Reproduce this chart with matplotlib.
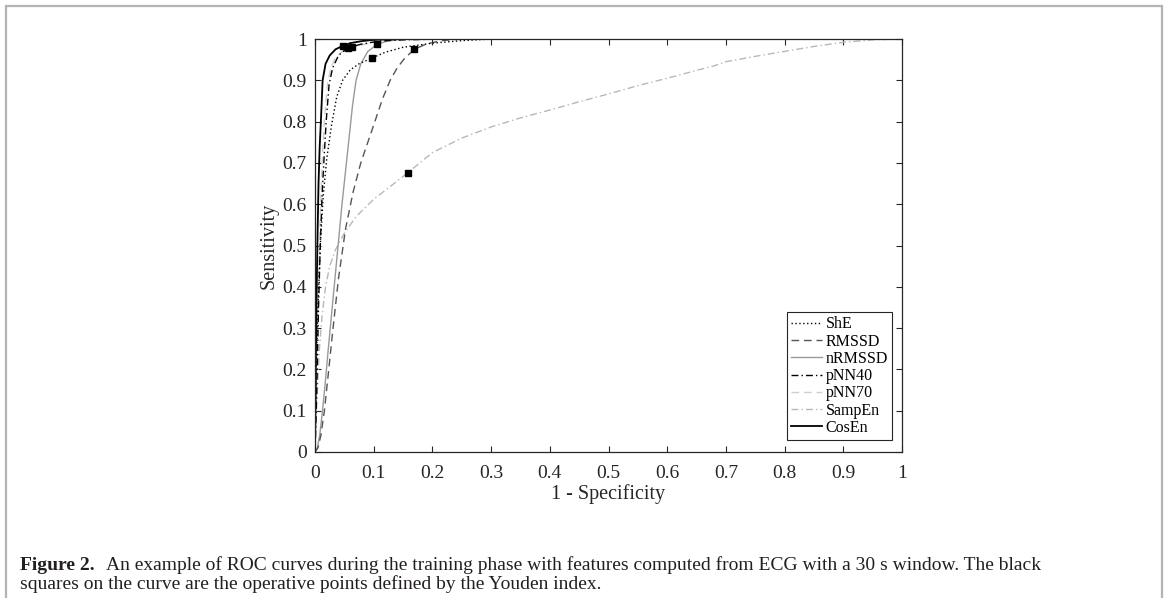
import matplotlib
matplotlib.use("Agg")
import matplotlib.pyplot as plt
from matplotlib.patches import Rectangle

plt.rcParams['font.family'] = ['Liberation Serif', 'DejaVu Serif']

# ROC curves (1 - specificity, sensitivity)
she_fpr = [0, 0.002, 0.005, 0.009, 0.014, 0.020, 0.028, 0.037, 0.047, 0.060, 0.075, 0.097, 0.120, 0.150, 0.200, 0.250, 0.300, 1.0]
she_tpr = [0, 0.20, 0.35, 0.50, 0.62, 0.71, 0.79, 0.86, 0.90, 0.925, 0.94, 0.954, 0.968, 0.98, 0.99, 0.996, 1.0, 1.0]

rmssd_fpr = [0, 0.005, 0.010, 0.016, 0.022, 0.030, 0.040, 0.052, 0.065, 0.078, 0.090, 0.102, 0.115, 0.128, 0.140, 0.152, 0.169, 0.190, 0.215, 0.250, 1.0]
rmssd_tpr = [0, 0.01, 0.04, 0.10, 0.18, 0.29, 0.42, 0.54, 0.63, 0.70, 0.75, 0.80, 0.855, 0.90, 0.93, 0.952, 0.975, 0.988, 0.996, 1.0, 1.0]

nrmssd_fpr = [0, 0.004, 0.008, 0.012, 0.017, 0.022, 0.028, 0.034, 0.040, 0.046, 0.052, 0.058, 0.064, 0.070, 0.078, 0.090, 0.106, 0.125, 0.150, 1.0]
nrmssd_tpr = [0, 0.01, 0.04, 0.09, 0.16, 0.24, 0.33, 0.42, 0.51, 0.60, 0.68, 0.76, 0.84, 0.90, 0.94, 0.97, 0.987, 0.996, 1.0, 1.0]

pnn40_fpr = [0, 0.003, 0.006, 0.009, 0.012, 0.015, 0.019, 0.024, 0.030, 0.040, 0.050, 0.057, 0.080, 0.110, 0.150, 0.220, 1.0]
pnn40_tpr = [0, 0.15, 0.35, 0.50, 0.62, 0.70, 0.80, 0.89, 0.93, 0.96, 0.972, 0.979, 0.988, 0.995, 0.998, 1.0, 1.0]

pnn70_fpr = [0, 0.003, 0.006, 0.009, 0.012, 0.016, 0.021, 0.027, 0.035, 0.045, 0.063, 0.080, 0.110, 0.150, 0.220, 1.0]
pnn70_tpr = [0, 0.20, 0.42, 0.58, 0.70, 0.80, 0.89, 0.93, 0.955, 0.968, 0.980, 0.986, 0.994, 0.998, 1.0, 1.0]

sampen_fpr = [0, 0.003, 0.007, 0.012, 0.018, 0.025, 0.035, 0.050, 0.070, 0.100, 0.130, 0.158, 0.200, 0.250, 0.300, 0.350, 0.400, 0.450, 0.500, 0.550, 0.600, 0.650, 0.680, 0.700, 0.750, 0.800, 0.850, 0.900, 0.950, 1.0]
sampen_tpr = [0, 0.12, 0.24, 0.33, 0.40, 0.45, 0.49, 0.53, 0.57, 0.612, 0.645, 0.676, 0.725, 0.760, 0.787, 0.809, 0.828, 0.848, 0.867, 0.887, 0.905, 0.924, 0.935, 0.945, 0.958, 0.970, 0.982, 0.992, 0.998, 1.0]

cosen_fpr = [0, 0.002, 0.004, 0.006, 0.008, 0.010, 0.013, 0.018, 0.025, 0.035, 0.048, 0.060, 0.080, 0.100, 0.150, 1.0]
cosen_tpr = [0, 0.30, 0.50, 0.65, 0.74, 0.80, 0.90, 0.94, 0.96, 0.975, 0.984, 0.99, 0.995, 0.998, 1.0, 1.0]

# operative points (Youden index)
op_fpr = [0.097, 0.169, 0.106, 0.057, 0.063, 0.158, 0.048]
op_tpr = [0.954, 0.975, 0.987, 0.979, 0.980, 0.676, 0.984]

labels = ["ShE", "RMSSD", "nRMSSD", "pNN40", "pNN70", "SampEn", "CosEn"]
x_ticks = [0, 0.1, 0.2, 0.3, 0.4, 0.5, 0.6, 0.7, 0.8, 0.9, 1]
y_ticks = [0, 0.1, 0.2, 0.3, 0.4, 0.5, 0.6, 0.7, 0.8, 0.9, 1]

curves = [
    (she_fpr, she_tpr, 'black', (0, (1, 1.8)), 1.0),
    (rmssd_fpr, rmssd_tpr, '#555555', (0, (5.5, 3.5)), 1.0),
    (nrmssd_fpr, nrmssd_tpr, '#999999', '-', 1.0),
    (pnn40_fpr, pnn40_tpr, 'black', (0, (5, 2.2, 1, 2.2)), 1.0),
    (pnn70_fpr, pnn70_tpr, '#cfcfcf', (0, (5.5, 3.5)), 1.0),
    (sampen_fpr, sampen_tpr, '#b8b8b8', (0, (5, 2.2, 1, 2.2)), 1.0),
    (cosen_fpr, cosen_tpr, 'black', '-', 1.3),
]

fig = plt.figure(figsize=(11.66, 5.98), dpi=100)
ax = fig.add_axes([315 / 1166, 1 - 452 / 598, 587 / 1166, 413 / 598])

# draw light curves first so the dark ones sit on top
order = [5, 4, 2, 1, 0, 3, 6]
lines = {}
for i in order:
    fpr, tpr, col, ls, lw = curves[i]
    lines[i], = ax.plot(fpr, tpr, color=col, linestyle=ls, linewidth=lw, label=labels[i])

ax.plot(op_fpr, op_tpr, 's', color='black', markersize=4.2, linestyle='none')

ax.set_xlim(0, 1)
ax.set_ylim(0, 1)
ax.set_xticks(x_ticks)
ax.set_yticks(y_ticks)
ax.set_xticklabels([f"{v:g}" for v in x_ticks])
ax.set_yticklabels([f"{v:g}" for v in y_ticks])
ax.tick_params(direction='in', length=4, width=0.8, top=True, right=True,
               labelsize=14, colors='#262626', labelcolor='#262626')
ax.tick_params(axis='x', pad=9)
ax.tick_params(axis='y', pad=6)
for s in ax.spines.values():
    s.set_linewidth(0.9)
    s.set_color('#262626')

ax.set_xlabel("1 - Specificity", fontsize=14.5, labelpad=2, color='#262626')
ax.set_ylabel("Sensitivity", fontsize=14.5, labelpad=3, color='#262626')

leg = ax.legend([lines[i] for i in range(7)], labels, loc='lower right',
                bbox_to_anchor=(0.983, 0.029), borderaxespad=0, fontsize=11.5,
                handlelength=2.0, handletextpad=0.2, labelspacing=0.08,
                borderpad=0.25, fancybox=False, framealpha=1)
leg.get_frame().set_edgecolor('#262626')
leg.get_frame().set_linewidth(0.8)

# caption
t1 = fig.text(20 / 1166, 1 - 570 / 598, "Figure 2.", fontsize=14,
              fontweight='bold', color='#231f20', va='baseline')
ax.annotate("An example of ROC curves during the training phase with features computed from ECG with a 30 s window. The black",
            xy=(1, 0), xycoords=t1, xytext=(8, 0), textcoords='offset points',
            fontsize=14, color='#231f20', va='bottom', ha='left', annotation_clip=False)
fig.text(20 / 1166, 1 - 589 / 598,
         "squares on the curve are the operative points defined by the Youden index.",
         fontsize=14, color='#231f20', va='baseline')

# light grey frame around the figure
fig.patches.append(Rectangle((6 / 1166, -0.1), (1162 - 6) / 1166, 1.1 - 6 / 598,
                             transform=fig.transFigure, fill=False,
                             edgecolor='#b3b3b3', linewidth=1.6))

fig.savefig("out.png", dpi=100)
